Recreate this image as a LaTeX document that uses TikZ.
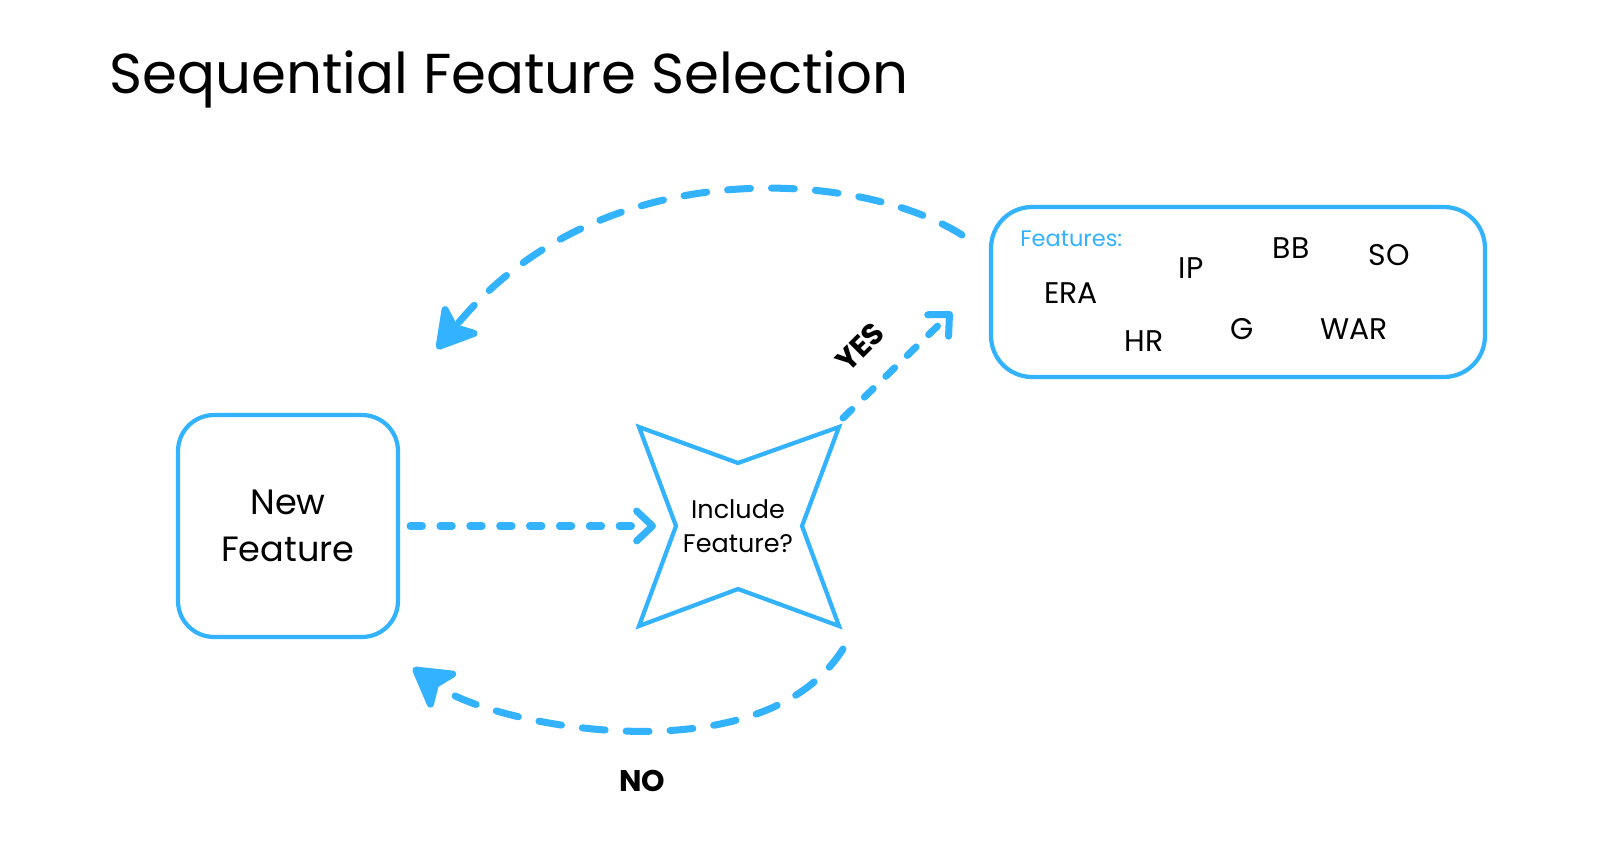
\documentclass[tikz,border=0pt]{standalone}
\usepackage{fontspec}
\setmainfont{Poppins}
\usetikzlibrary{arrows.meta,positioning}
\definecolor{skyblue}{RGB}{51,178,255}
\tikzset{
  box/.style={draw=skyblue,line width=2.4pt,align=center,inner sep=0pt},
  word/.style={font=\fontsize{17}{20}\selectfont},
  flow/.style={draw=skyblue,line width=4pt,line cap=round,dash pattern=on 7pt off 10pt},
  swing/.style={draw=skyblue,line width=4pt,line cap=round,dash pattern=on 13pt off 12pt},
  openhead/.style={-{Straight Barb[length=9pt,width=17pt,round]}},
  fullhead/.style={-{Stealth[length=26pt,width=30pt,inset=6pt,round]}},
  answer/.style={font=\fontsize{17}{20}\selectfont\bfseries}
}

\begin{document}
\begin{tikzpicture}[x=0.02cm,y=-0.02cm]
\useasboundingbox (0,0) rectangle (1600,861);
% title
\node[anchor=base west,inner sep=0pt,font=\fontsize{32}{38}\selectfont] (title) at (109,94) {Sequential Feature Selection};

% candidate and selected pool
\node[box,rounded corners=0.72cm,minimum width=4.4cm,minimum height=4.44cm,font=\fontsize{20}{26.6}\selectfont] (newfeat) at (288,526) {New\\Feature};
\node[box,rounded corners=0.82cm,minimum width=9.88cm,minimum height=3.4cm] (pool) at (1238,292) {};
\node[anchor=base west,inner sep=0pt,text=skyblue,font=\fontsize{12.8}{15}\selectfont] (poolname) at (1020,247) {Features:};
\foreach \w/\px/\py in {ERA/1071/293,IP/1191/268,BB/1291/248,SO/1389/255,HR/1144/341,G/1242/329,WAR/1354/329}
  \node[word] (\w) at (\px,\py) {\w};

% decision star
\draw[skyblue,line width=2.4pt] (639,427) -- (738,463) -- (839,427) -- (802,526)
  -- (839,626) -- (738,589) -- (639,626) -- (676,526) -- cycle;
\node[align=center,font=\fontsize{14.5}{19.7}\selectfont] (ask) at (738,526) {Include\\Feature?};

% connectors
\coordinate (askin) at (656,526);
\coordinate (yesfrom) at (843,418);
\coordinate (yesto) at (952,312);
\coordinate (backfrom) at (962,235);
\coordinate (backto) at (437,349);
\coordinate (nofrom) at (843,649);
\coordinate (noto) at (413,668);
\draw[flow,openhead] ([xshift=0.2cm]newfeat.east) -- (askin);
\draw[flow,openhead] (yesfrom) -- (yesto);
\draw[swing,fullhead] (backfrom) .. controls (860,170) and (600,150) .. (backto);
\draw[swing,fullhead] (nofrom) .. controls (760,780) and (490,725) .. (noto);
\node[answer,rotate=45] (yes) at (860,347) {YES};
\node[answer] (no) at (642,781) {NO};
\end{tikzpicture}
\end{document}
